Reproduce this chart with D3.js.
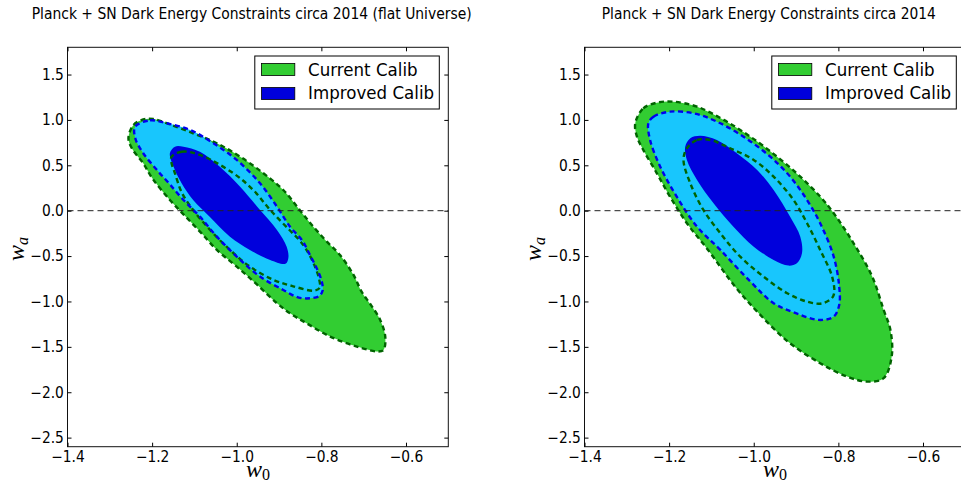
<!DOCTYPE html>
<html>
<head>
<meta charset="utf-8">
<script src="https://cdn.jsdelivr.net/npm/d3@7"></script>
<style>
  body { margin: 0; background: #fff; }
  svg { display: block; }
</style>
</head>
<body>
<svg id="chart" width="961" height="481"></svg>
<script>
// tick values and labels
const xTicks = [-1.4, -1.2, -1.0, -0.8, -0.6];
const yTicks = [1.5, 1.0, 0.5, 0.0, -0.5, -1.0, -1.5, -2.0, -2.5];
const titles = [
  "Planck + SN Dark Energy Constraints circa 2014 (flat Universe)",
  "Planck + SN Dark Energy Constraints circa 2014"
];
const legendLabels = ["Current Calib", "Improved Calib"];

// contours, [w0, wa]
// left panel (flat Universe)
const flatCurrent95 = [[-1.256,0.80],[-1.244,0.944],[-1.221,1.005],[-1.197,1.01],[-1.158,0.95],[-1.103,0.853],[-1.047,0.743],[-0.992,0.595],[-0.937,0.412],[-0.890,0.228],[-0.850,0.0],[-0.819,-0.176],[-0.787,-0.341],[-0.756,-0.488],[-0.724,-0.708],[-0.705,-0.892],[-0.683,-1.038],[-0.661,-1.203],[-0.649,-1.387],[-0.653,-1.534],[-0.665,-1.552],[-0.716,-1.497],[-0.779,-1.387],[-0.835,-1.240],[-0.874,-1.130],[-0.905,-1.019],[-0.953,-0.81],[-1.0,-0.616],[-1.047,-0.432],[-1.087,-0.23],[-1.126,-0.04],[-1.158,0.118],[-1.200,0.36],[-1.221,0.522],[-1.248,0.688]];
const flatImproved95 = [[-1.240,0.926],[-1.205,0.995],[-1.165,0.963],[-1.110,0.889],[-1.055,0.743],[-1.0,0.559],[-0.945,0.302],[-0.905,0.045],[-0.874,-0.176],[-0.845,-0.33],[-0.827,-0.488],[-0.811,-0.634],[-0.799,-0.781],[-0.797,-0.88],[-0.805,-0.94],[-0.827,-0.965],[-0.855,-0.955],[-0.890,-0.873],[-0.945,-0.726],[-1.0,-0.506],[-1.047,-0.286],[-1.087,-0.066],[-1.126,0.118],[-1.160,0.30],[-1.189,0.45],[-1.221,0.633],[-1.240,0.80]];
const flatImproved68 = [[-1.158,0.633],[-1.146,0.705],[-1.126,0.705],[-1.087,0.650],[-1.040,0.485],[-0.992,0.265],[-0.945,0.008],[-0.905,-0.212],[-0.882,-0.396],[-0.878,-0.52],[-0.885,-0.585],[-0.921,-0.543],[-0.969,-0.432],[-1.016,-0.286],[-1.064,-0.066],[-1.103,0.118],[-1.130,0.30],[-1.148,0.47]];
const flatCurrent68 = [[-1.154,0.595],[-1.130,0.650],[-1.087,0.614],[-1.008,0.412],[-0.961,0.228],[-0.921,0.008],[-0.876,-0.21],[-0.849,-0.34],[-0.829,-0.48],[-0.814,-0.63],[-0.805,-0.76],[-0.804,-0.85],[-0.817,-0.881],[-0.870,-0.828],[-0.913,-0.763],[-0.969,-0.616],[-1.016,-0.432],[-1.063,-0.212],[-1.103,0.008],[-1.130,0.2],[-1.146,0.412],[-1.154,0.522]];
// right panel
const openCurrent95 = [[-1.280,0.963],[-1.261,1.128],[-1.229,1.190],[-1.190,1.201],[-1.134,1.146],[-1.071,1.0],[-1.008,0.815],[-0.945,0.595],[-0.890,0.375],[-0.843,0.155],[-0.811,-0.028],[-0.764,-0.359],[-0.720,-0.726],[-0.693,-1.093],[-0.677,-1.313],[-0.674,-1.607],[-0.693,-1.845],[-0.732,-1.883],[-0.779,-1.828],[-0.843,-1.680],[-0.921,-1.435],[-0.989,-1.126],[-1.044,-0.837],[-1.108,-0.432],[-1.158,-0.138],[-1.198,0.155],[-1.229,0.412],[-1.261,0.669],[-1.276,0.815]];
const openImproved95 = [[-1.249,0.963],[-1.237,1.036],[-1.198,1.091],[-1.142,1.073],[-1.087,0.981],[-1.024,0.815],[-0.961,0.595],[-0.914,0.375],[-0.874,0.118],[-0.843,-0.138],[-0.811,-0.506],[-0.798,-0.837],[-0.798,-1.038],[-0.811,-1.167],[-0.847,-1.203],[-0.902,-1.126],[-0.953,-1.019],[-1.008,-0.781],[-1.079,-0.432],[-1.134,-0.176],[-1.182,0.155],[-1.221,0.485],[-1.245,0.779]];
const openImproved68 = [[-1.162,0.705],[-1.150,0.798],[-1.127,0.826],[-1.087,0.779],[-1.040,0.633],[-0.992,0.449],[-0.953,0.228],[-0.914,-0.066],[-0.890,-0.286],[-0.886,-0.469],[-0.898,-0.579],[-0.918,-0.605],[-0.953,-0.543],[-1.0,-0.396],[-1.048,-0.176],[-1.095,0.082],[-1.134,0.339],[-1.158,0.559]];
const openCurrent68 = [[-1.158,0.688],[-1.134,0.779],[-1.103,0.779],[-1.056,0.688],[-1.0,0.559],[-0.953,0.375],[-0.906,0.118],[-0.874,-0.138],[-0.843,-0.432],[-0.814,-0.740],[-0.812,-0.939],[-0.838,-1.021],[-0.874,-1.002],[-0.921,-0.909],[-0.977,-0.726],[-1.032,-0.506],[-1.079,-0.248],[-1.119,0.008],[-1.150,0.302],[-1.166,0.559]];

const green = "#32cd32", darkGreen = "#006400";
const lightBlue = "#18c6fd", darkBlue = "#0000dc", blueLine = "#0000ee";
const sans = "'DejaVu Sans', sans-serif", serif = "'Liberation Serif', 'DejaVu Serif', serif";

const svg = d3.select("#chart");
const plotTop = 47.3, plotH = 399.4, plotW = 380.8;

function drawPanel(left, title, titleX, titleLen, c95, i95, i68, c68) {
  const x = d3.scaleLinear().domain([-1.4, -0.5]).range([left, left + plotW]);
  const y = d3.scaleLinear().domain([-2.6, 1.8]).range([plotTop + plotH, plotTop]);
  const line = d3.line().x(d => x(d[0])).y(d => y(d[1])).curve(d3.curveCatmullRomClosed.alpha(0.5));

  const g = svg.append("g");

  g.append("path").attr("d", line(c95)).attr("fill", green);
  g.append("path").attr("d", line(i95)).attr("fill", lightBlue);
  g.append("path").attr("d", line(i68)).attr("fill", darkBlue);

  const dash = "5,3.5", lw = 2.4;
  g.append("path").attr("d", line(c68)).attr("fill", "none")
    .attr("stroke", darkGreen).attr("stroke-width", lw).attr("stroke-dasharray", dash);
  g.append("path").attr("d", line(c95)).attr("fill", "none")
    .attr("stroke", darkGreen).attr("stroke-width", lw).attr("stroke-dasharray", dash);
  g.append("path").attr("d", line(i95)).attr("fill", "none")
    .attr("stroke", blueLine).attr("stroke-width", lw).attr("stroke-dasharray", dash);

  // w_a = 0 reference line
  g.append("line")
    .attr("x1", x(-1.4)).attr("x2", x(-0.5))
    .attr("y1", y(0)).attr("y2", y(0))
    .attr("stroke", "#222").attr("stroke-width", 1).attr("stroke-dasharray", "6,4");

  // frame
  g.append("rect").attr("x", left).attr("y", plotTop).attr("width", plotW).attr("height", plotH)
    .attr("fill", "none").attr("stroke", "#111").attr("stroke-width", 1);

  const fmt = d3.format(".1f");
  const styleAxis = sel => {
    sel.select(".domain").remove();
    sel.attr("font-family", null).attr("font-size", null)
      .style("font-family", sans).style("font-size", "15px");
    sel.selectAll("text").attr("fill", "#000").attr("transform", "scale(0.92,1)");
    sel.selectAll("line").attr("stroke", "#000");
  };
  g.append("g").attr("transform", `translate(0,${plotTop + plotH})`)
    .call(d3.axisBottom(x).tickValues(xTicks).tickSize(-4).tickSizeOuter(0).tickPadding(5).tickFormat(fmt))
    .call(styleAxis);
  g.append("g").attr("transform", `translate(0,${plotTop})`)
    .call(d3.axisTop(x).tickValues(xTicks).tickSize(-4).tickSizeOuter(0).tickFormat(""))
    .call(styleAxis);
  g.append("g").attr("transform", `translate(${left},0)`)
    .call(d3.axisLeft(y).tickValues(yTicks).tickSize(-4).tickSizeOuter(0).tickPadding(4).tickFormat(fmt))
    .call(styleAxis);
  g.append("g").attr("transform", `translate(${left + plotW},0)`)
    .call(d3.axisRight(y).tickValues(yTicks).tickSize(-4).tickSizeOuter(0).tickFormat(""))
    .call(styleAxis);

  // title
  g.append("text").attr("x", titleX).attr("y", 18.5).attr("text-anchor", "middle")
    .style("font-family", sans).style("font-size", "15px")
    .attr("textLength", titleLen).attr("lengthAdjust", "spacingAndGlyphs")
    .attr("fill", "#000").text(title);

  // axis labels
  const xl = g.append("text").attr("x", left + plotW / 2).attr("y", 477).attr("text-anchor", "middle")
    .style("font-family", serif).style("font-style", "italic").style("font-size", "24px");
  xl.append("tspan").text("w");
  xl.append("tspan").style("font-size", "16px").style("font-style", "normal").attr("dy", 3).text("0");

  const yl = g.append("text").attr("transform", `translate(${left - 44},${plotTop + plotH / 2 + 2}) rotate(-90)`)
    .attr("text-anchor", "middle")
    .style("font-family", serif).style("font-style", "italic").style("font-size", "24px");
  yl.append("tspan").text("w");
  yl.append("tspan").style("font-size", "16px").attr("dy", 4).text("a");

  // legend
  const lx = left + plotW - 9 - 184.5, ly = 56;
  const lg = g.append("g").attr("transform", `translate(${lx},${ly})`);
  lg.append("rect").attr("width", 184.5).attr("height", 53)
    .attr("fill", "#fff").attr("stroke", "#000").attr("stroke-width", 1);
  const patchColors = [green, darkBlue];
  const textLens = [109.5, 126];
  legendLabels.forEach((lab, i) => {
    lg.append("rect").attr("x", 6.7).attr("y", 7.5 + i * 24).attr("width", 33.3).attr("height", 12)
      .attr("fill", patchColors[i]).attr("stroke", "#000").attr("stroke-width", 0.8);
    lg.append("text").attr("x", 53.3).attr("y", 20 + i * 23.3)
      .style("font-family", sans).style("font-size", "17.5px")
      .attr("textLength", textLens[i]).attr("lengthAdjust", "spacingAndGlyphs")
      .attr("fill", "#000").text(lab);
  });
}

drawPanel(67.5, titles[0], 251.7, 440, flatCurrent95, flatImproved95, flatImproved68, flatCurrent68);
drawPanel(584.5, titles[1], 768.8, 334, openCurrent95, openImproved95, openImproved68, openCurrent68);
</script>
</body>
</html>
